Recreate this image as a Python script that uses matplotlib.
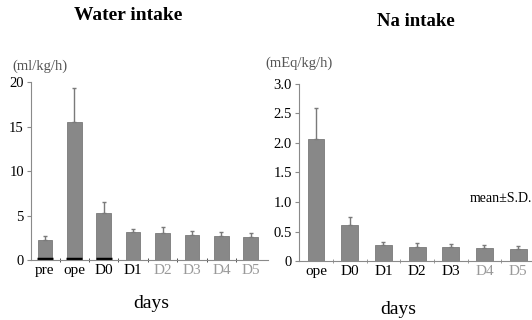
import matplotlib
matplotlib.use("Agg")
import matplotlib.pyplot as plt
import numpy as np

plt.rcParams['font.family'] = ['Liberation Serif', 'DejaVu Serif']

# Water intake (ml/kg/h)
water_days = ['pre', 'ope', 'D0', 'D1', 'D2', 'D3', 'D4', 'D5']
water_mean = [2.2, 15.5, 5.3, 3.1, 3.0, 2.8, 2.7, 2.6]
water_sd = [0.5, 3.8, 1.2, 0.4, 0.7, 0.5, 0.5, 0.4]

# Na intake (mEq/kg/h)
na_days = ['ope', 'D0', 'D1', 'D2', 'D3', 'D4', 'D5']
na_mean = [2.06, 0.61, 0.27, 0.24, 0.24, 0.22, 0.21]
na_sd = [0.53, 0.13, 0.05, 0.06, 0.05, 0.05, 0.05]

bar_color = '#888888'
axis_color = '#8a8a8a'

fig = plt.figure(figsize=(5.32, 3.2), dpi=100)

# ---- left panel: water intake
ax1 = fig.add_axes([0.058, 0.1875, 0.4455, 0.556])
x1 = np.arange(len(water_days))
ax1.bar(x1, water_mean, width=0.5, color=bar_color, edgecolor='#7a7a7a', linewidth=0.6)
ax1.errorbar(x1, water_mean, yerr=[np.zeros(len(water_sd)), water_sd], fmt='none',
             ecolor='#7a7a7a', elinewidth=1.0, capsize=1.5)
# black marks at base of pre / ope / D0
for i in range(3):
    ax1.plot([x1[i] - 0.27, x1[i] + 0.27], [0.15, 0.15], color='black', lw=2.5, solid_capstyle='butt')
ax1.set_xlim(-0.476, 7.58)
ax1.set_ylim(0, 20)
ax1.set_yticks([0, 5, 10, 15, 20])
ax1.set_yticklabels(['0', '5', '10', '15', '20'])
ax1.set_xticks(x1)
ax1.set_xticklabels(water_days)
ax1.set_xticks(x1[:-1] + 0.5, minor=True)
ax1.tick_params(axis='x', which='major', length=0, pad=3, labelsize=11)
ax1.tick_params(axis='x', which='minor', length=3, direction='inout', color='#333333')
ax1.tick_params(axis='y', length=3, color=axis_color, labelsize=10.5, pad=2)
for lbl, c in zip(ax1.get_xticklabels(), ['black'] * 4 + ['#999999'] * 4):
    lbl.set_color(c)
for s in ['top', 'right']:
    ax1.spines[s].set_visible(False)
ax1.spines['left'].set_color(axis_color)
ax1.spines['bottom'].set_color(axis_color)

# ---- right panel: Na intake
ax2 = fig.add_axes([0.562, 0.184, 0.45, 0.555])
x2 = np.arange(len(na_days))
ax2.bar(x2, na_mean, width=0.5, color=bar_color, edgecolor='#7a7a7a', linewidth=0.6)
ax2.errorbar(x2, na_mean, yerr=[np.zeros(len(na_sd)), na_sd], fmt='none',
             ecolor='#7a7a7a', elinewidth=1.0, capsize=1.5)
ax2.set_xlim(-0.506, 6.6)
ax2.set_ylim(0, 3.0)
ax2.set_yticks([0, 0.5, 1.0, 1.5, 2.0, 2.5, 3.0])
ax2.set_yticklabels(['0', '0.5', '1.0', '1.5', '2.0', '2.5', '3.0'])
ax2.set_xticks(x2)
ax2.set_xticklabels(na_days)
ax2.set_xticks(x2[:-1] + 0.5, minor=True)
ax2.tick_params(axis='x', which='major', length=0, pad=3, labelsize=11)
ax2.tick_params(axis='x', which='minor', length=3, direction='inout', color=axis_color)
ax2.tick_params(axis='y', length=3, color=axis_color, labelsize=10.5, pad=2)
for lbl, c in zip(ax2.get_xticklabels(), ['black'] * 5 + ['#999999'] * 2):
    lbl.set_color(c)
for s in ['top', 'right']:
    ax2.spines[s].set_visible(False)
ax2.spines['left'].set_color(axis_color)
ax2.spines['bottom'].set_color(axis_color)

# titles, units, axis names
fig.text(128 / 532, 1 - 16 / 320, 'Water intake', ha='center', va='center',
         fontsize=14, fontweight='bold')
fig.text(416 / 532, 1 - 21 / 320, 'Na intake', ha='center', va='center',
         fontsize=13.5, fontweight='bold')
fig.text(12 / 532, 1 - 66 / 320, '(ml/kg/h)', ha='left', va='center',
         fontsize=10.5, color='#555555')
fig.text(265 / 532, 1 - 63 / 320, '(mEq/kg/h)', ha='left', va='center',
         fontsize=10.5, color='#555555')
fig.text(470 / 532, 1 - 199 / 320, 'mean\u00b1S.D.', ha='left', va='center',
         fontsize=10)
fig.text(151 / 532, 1 - 303 / 320, 'days', ha='center', va='center', fontsize=14)
fig.text(398 / 532, 1 - 309 / 320, 'days', ha='center', va='center', fontsize=14)

fig.savefig('out.png', dpi=100)
